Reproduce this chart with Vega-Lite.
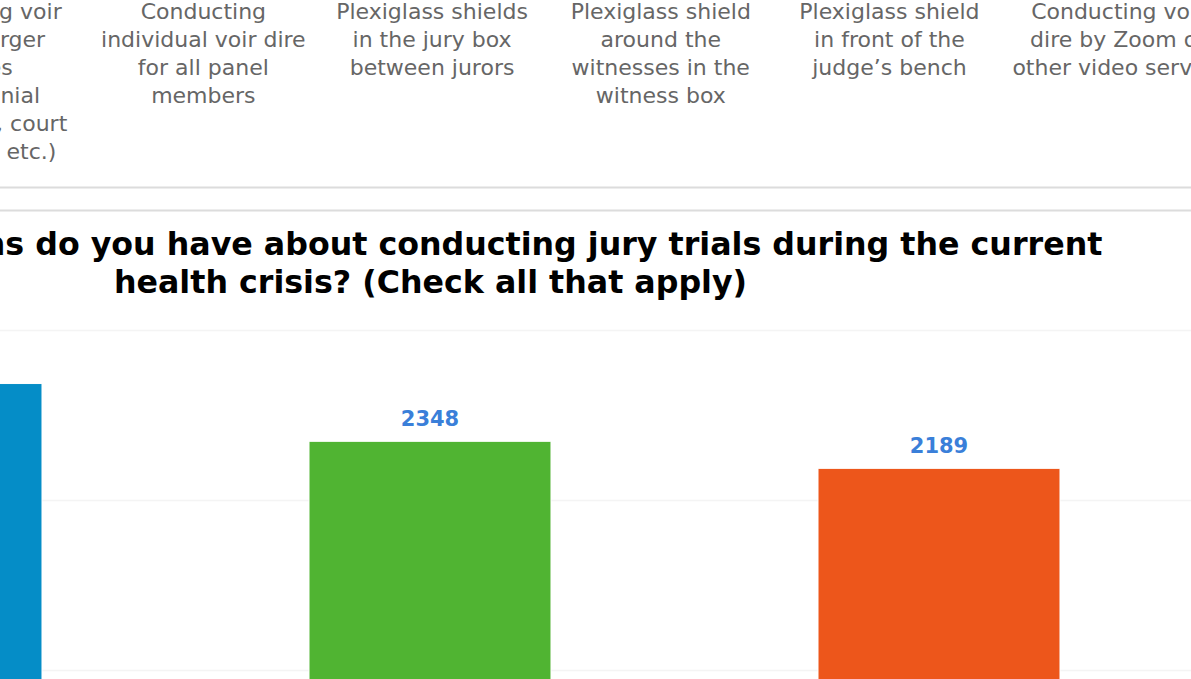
{
  "$schema": "https://vega.github.io/schema/vega-lite/v6.json",
  "autosize": {"type": "none"},
  "padding": 0,
  "width": 1191,
  "height": 679,
  "background": "white",
  "config": {"view": {"stroke": null}},
  "datasets": {
    "previous": [
      {"option": "Requiring face masks|for all participants", "count": 3000},
      {"option": "Conducting voir|dire in larger|spaces|(ceremonial|courtroom, court|buildings, etc.)", "count": 2800},
      {"option": "Conducting|individual voir dire|for all panel|members", "count": 2200},
      {"option": "Plexiglass shields|in the jury box|between jurors", "count": 1900},
      {"option": "Plexiglass shield|around the|witnesses in the|witness box", "count": 1700},
      {"option": "Plexiglass shield|in front of the|judge’s bench", "count": 1500},
      {"option": "Conducting voir|dire by Zoom or|other video service", "count": 1200}
    ],
    "current": [
      {"concern": "Risk of exposure to the virus", "count": 2688},
      {"concern": "Jurors’ reluctance to appear", "count": 2348},
      {"concern": "Maintaining social distancing", "count": 2189}
    ]
  },
  "resolve": {
    "scale": {"x": "independent", "y": "independent", "color": "independent"},
    "axis": {"x": "independent", "y": "independent"}
  },
  "layer": [
    {
      "data": {"name": "previous"},
      "mark": {"type": "tick", "opacity": 0},
      "encoding": {
        "x": {
          "field": "option", "type": "nominal", "sort": null,
          "scale": {"range": [-368.4, 1232.5], "paddingInner": 0, "paddingOuter": 0},
          "axis": {
            "orient": "top", "title": null, "domain": false, "ticks": false, "grid": false,
            "labelAngle": 0, "labelAlign": "center", "labelBaseline": "top", "labelPadding": -1,
            "labelExpr": "split(datum.label, '|')", "labelLineHeight": 28,
            "labelFont": "DejaVu Sans", "labelFontSize": 22, "labelColor": "#666666",
            "labelLimit": 0, "labelOverlap": false
          }
        }
      }
    },
    {
      "data": {"name": "previous"},
      "mark": {"type": "tick", "opacity": 0},
      "encoding": {
        "x": {
          "field": "option", "type": "nominal", "sort": null,
          "scale": {"range": [-368.4, 1232.5], "paddingInner": 0, "paddingOuter": 0},
          "axis": {
            "orient": "bottom", "offset": -492, "title": null, "labels": false, "ticks": false, "grid": false,
            "domain": true, "domainColor": "#dcdcdc", "domainWidth": 2
          }
        }
      }
    },
    {
      "data": {"name": "current"},
      "mark": {"type": "bar", "stroke": "#ffffff", "strokeWidth": 1, "clip": true},
      "encoding": {
        "x": {
          "field": "concern", "type": "nominal", "sort": null,
          "scale": {"range": [-333.5, 1193.5], "paddingInner": 0.5246, "paddingOuter": 0.2623},
          "axis": {
            "orient": "bottom", "offset": -469, "labels": false, "ticks": false, "grid": false,
            "domain": true, "domainColor": "#dcdcdc", "domainWidth": 2,
            "title": ["What concerns do you have about conducting jury trials during the current", "health crisis? (Check all that apply)"],
            "titleFont": "DejaVu Sans", "titleFontSize": 31.7, "titleFontWeight": "bold", "titleColor": "#000000",
            "titlePadding": 19, "titleLineHeight": 38, "titleLimit": 0
          }
        },
        "y": {
          "field": "count", "type": "quantitative",
          "scale": {"domain": [950, 4944]},
          "axis": {
            "values": [1000, 2000, 3000], "grid": true, "gridColor": "#f4f4f4", "gridWidth": 1.5,
            "labels": false, "ticks": false, "domain": false, "title": null
          }
        },
        "y2": {"datum": 0},
        "color": {
          "field": "concern", "type": "nominal", "sort": null,
          "scale": {"range": ["#058DC7", "#50B432", "#ED561B"]},
          "legend": null
        }
      }
    },
    {
      "data": {"name": "current"},
      "mark": {"type": "text", "baseline": "alphabetic", "dy": -15, "font": "DejaVu Sans", "fontSize": 21, "fontWeight": 600, "color": "#3a7fd9"},
      "encoding": {
        "x": {
          "field": "concern", "type": "nominal", "sort": null,
          "scale": {"range": [-333.5, 1193.5], "paddingInner": 0.5246, "paddingOuter": 0.2623},
          "axis": null
        },
        "y": {"field": "count", "type": "quantitative", "scale": {"domain": [950, 4944]}, "axis": null},
        "text": {"field": "count", "type": "quantitative"}
      }
    }
  ]
}
